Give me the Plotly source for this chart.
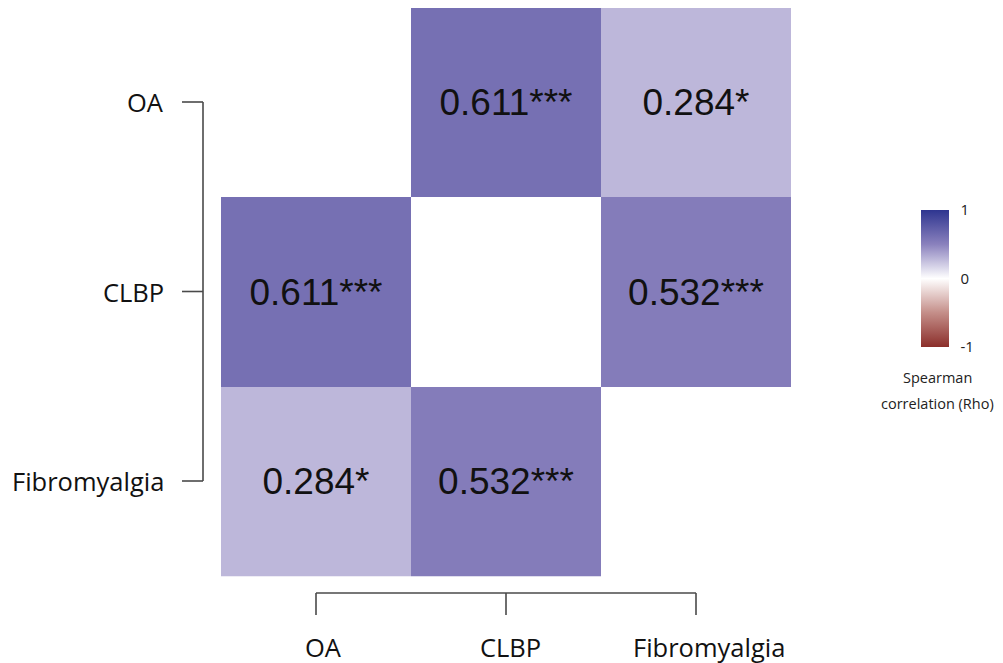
import plotly.graph_objects as go

# ---- data ----
conditions = ["OA", "CLBP", "Fibromyalgia"]
rho = [
    [None, 0.611, 0.284],
    [0.611, None, 0.532],
    [0.284, 0.532, None],
]
stars = [
    ["", "***", "*"],
    ["***", "", "***"],
    ["*", "***", ""],
]
cbar_ticks = [-1, 0, 1]
cbar_title_lines = ["Spearman", "correlation (Rho)"]

# ---- geometry / style ----
OFF = 8                      # default page body margin
W, H = 1003, 663 - OFF
plot_right_page = 900
plot_w = plot_right_page - OFF
px_x = 190.0                 # pixels per x unit
px_y = 189.5                 # pixels per y unit
cx0, cy0 = 316.0, 102.0      # page pixel of first cell centre
bottom_label_shift_px = [7, 4, 13]   # slight right nudge of bottom labels


def dx(page_px):
    return (page_px - cx0) / px_x


def dy(page_py):
    return (page_py - cy0) / px_y


def paper_x(page_px):
    return (page_px - OFF) / plot_w


def paper_y(page_py):
    return 1 - (page_py - OFF) / H


x_range = [dx(OFF), dx(plot_right_page)]
y_range = [dy(OFF + H), dy(OFF)]

idx = list(range(len(conditions)))
text = [[("" if v is None else f"{v:.3f}{s}") for v, s in zip(rz, rs)] for rz, rs in zip(rho, stars)]

colorscale = [
    [0.0, "#8B2E2A"],
    [0.25, "#C48E89"],
    [0.5, "#FFFFFF"],
    [0.75, "#8A81BD"],
    [1.0, "#2E3590"],
]

fig = go.Figure()
fig.add_trace(go.Heatmap(
    x=idx, y=idx, z=rho, text=text, texttemplate="%{text}",
    textfont=dict(size=37, color="#111111", family="Liberation Sans, Arial"),
    colorscale=colorscale, zmin=-1, zmax=1, hoverongaps=False,
    colorbar=dict(
        x=paper_x(921), xanchor="left", xpad=0,
        y=paper_y(278.5), yanchor="middle", ypad=0,
        thickness=28, len=137, lenmode="pixels", outlinewidth=0,
        tickvals=cbar_ticks, ticktext=[str(t) for t in cbar_ticks],
        ticks="outside", ticklen=9, tickcolor="rgba(0,0,0,0)",
        tickfont=dict(size=15, color="#222222", family="Open Sans"),
    ),
))

line_col = "#4a4a4a"
lw = 1.6
# left bracket
lx_out, lx_in = dx(182), dx(203)
for i in idx:
    fig.add_trace(go.Scatter(x=[lx_out, lx_in], y=[i, i], mode="lines",
                             line=dict(color=line_col, width=lw), hoverinfo="skip", showlegend=False))
fig.add_trace(go.Scatter(x=[lx_in, lx_in], y=[idx[0], idx[-1]], mode="lines",
                         line=dict(color=line_col, width=lw), hoverinfo="skip", showlegend=False))
# bottom bracket
by_in, by_out = dy(593), dy(615)
for i in idx:
    fig.add_trace(go.Scatter(x=[i, i], y=[by_in, by_out], mode="lines",
                             line=dict(color=line_col, width=lw), hoverinfo="skip", showlegend=False))
fig.add_trace(go.Scatter(x=[idx[0], idx[-1]], y=[by_in, by_in], mode="lines",
                         line=dict(color=line_col, width=lw), hoverinfo="skip", showlegend=False))

lab_font = dict(size=25.5, color="#111111", family="Open Sans")
for i, name, sh in zip(idx, conditions, bottom_label_shift_px):
    fig.add_annotation(x=dx(166), y=i, text=name, showarrow=False,
                       xanchor="right", yanchor="middle", font=lab_font)
    fig.add_annotation(x=i + sh / px_x, y=dy(647), text=name, showarrow=False,
                       xanchor="center", yanchor="middle", font=lab_font)

for line, ypg in zip(cbar_title_lines, [377, 403]):
    fig.add_annotation(xref="paper", yref="paper", x=paper_x(937), y=paper_y(ypg),
                       text=line, showarrow=False, xanchor="center", yanchor="middle",
                       font=dict(size=14.5, color="#222222", family="Open Sans"))

fig.update_xaxes(range=x_range, visible=False, fixedrange=True)
fig.update_yaxes(range=y_range, visible=False, fixedrange=True)
fig.update_layout(
    width=W, height=H, margin=dict(l=0, r=W - plot_w, t=0, b=0),
    plot_bgcolor="white", paper_bgcolor="white", showlegend=False,
)
fig.write_html("out.html")
